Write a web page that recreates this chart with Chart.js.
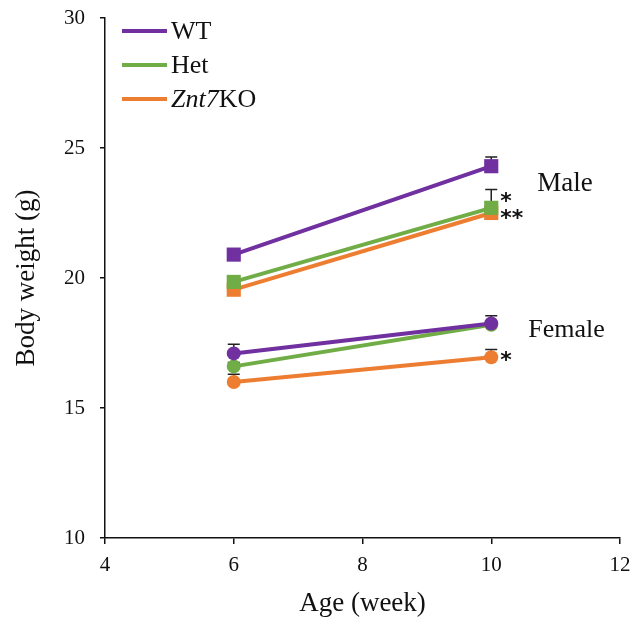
<!DOCTYPE html>
<html>
<head>
<meta charset="utf-8">
<script src="https://cdn.jsdelivr.net/npm/chart.js@4/dist/chart.umd.min.js"></script>
<style>
  html, body { margin: 0; padding: 0; background: #fff; }
  #wrap { width: 631px; height: 617px; }
</style>
</head>
<body>
<div id="wrap"><canvas id="chart" width="631" height="617"></canvas></div>
<script>
const ages = [6, 10];
const groups = ['WT', 'Het', 'Znt7KO'];
const colors = ['#7030A0', '#70AD47', '#ED7D31'];

// body weight (g), mean
const maleWT = [20.9, 24.3];
const maleHet = [19.85, 22.7];
const maleKO = [19.55, 22.5];
const femaleWT = [17.1, 18.25];
const femaleHet = [16.6, 18.2];
const femaleKO = [16.0, 16.95];

// upper error (g)
const maleWTErr = [0.15, 0.35];
const maleHetErr = [0.1, 0.7];
const maleKOErr = [0.1, 0.15];
const femaleWTErr = [0.35, 0.3];
const femaleHetErr = [0.15, 0.1];
const femaleKOErr = [0.3, 0.3];

const yTicks = [10, 15, 20, 25, 30];
const xTicks = [4, 6, 8, 10, 12];

const serif = '"Liberation Serif", "Times New Roman", serif';
const ink = '#111';

function series(label, values, errs, color, shape) {
    return {
        label: label,
        data: ages.map((a, i) => ({ x: a, y: values[i], err: errs[i] })),
        borderColor: color,
        backgroundColor: color,
        borderWidth: 4,
        pointStyle: shape,
        pointRadius: shape == 'rect' ? 10 : 7,
        pointBorderWidth: 0,
        pointHoverRadius: 0,
        tension: 0,
    };
}

const errorBars = {
    id: 'errorBars',
    beforeDatasetsDraw(chart) {
        const ctx = chart.ctx;
        const y = chart.scales.y;
        const x = chart.scales.x;
        ctx.save();
        ctx.strokeStyle = '#222';
        ctx.lineWidth = 1.5;
        for (const ds of chart.data.datasets) {
            for (const p of ds.data) {
                const px = x.getPixelForValue(p.x);
                const y0 = y.getPixelForValue(p.y);
                const y1 = y.getPixelForValue(p.y + p.err);
                ctx.beginPath();
                ctx.moveTo(px, y0);
                ctx.lineTo(px, y1);
                ctx.moveTo(px - 6, y1);
                ctx.lineTo(px + 6, y1);
                ctx.stroke();
            }
        }
        ctx.restore();
    },
};

function star(ctx, text, left, cy) {
    const m = ctx.measureText(text);
    ctx.fillText(text, left, cy + (m.actualBoundingBoxAscent - m.actualBoundingBoxDescent) / 2);
}

const notes = {
    id: 'notes',
    afterDraw(chart) {
        const ctx = chart.ctx;
        const x = chart.scales.x;
        const y = chart.scales.y;
        const x10 = x.getPixelForValue(10);
        ctx.save();
        ctx.fillStyle = ink;
        ctx.textBaseline = 'middle';
        ctx.textAlign = 'left';
        ctx.font = '27px ' + serif;
        ctx.fillText('Male', x10 + 46, y.getPixelForValue(23.6));
        ctx.font = '26px ' + serif;
        ctx.fillText('Female', x10 + 37, y.getPixelForValue(18.0));

        ctx.textBaseline = 'alphabetic';
        ctx.font = 'bold 22px "DejaVu Sans", sans-serif';
        star(ctx, '*', x10 + 9, y.getPixelForValue(23.1));
        star(ctx, '**', x10 + 9, y.getPixelForValue(22.45));
        star(ctx, '*', x10 + 9, y.getPixelForValue(17.0));

        // legend
        ctx.textBaseline = 'middle';
        const left = chart.chartArea.left;
        const top = chart.chartArea.top;
        const rows = [13, 47, 81];
        groups.forEach((g, i) => {
            const ly = top + rows[i];
            ctx.strokeStyle = colors[i];
            ctx.lineWidth = 4;
            ctx.beginPath();
            ctx.moveTo(left + 17, ly);
            ctx.lineTo(left + 62, ly);
            ctx.stroke();
            ctx.font = '26px ' + serif;
            if (g == 'Znt7KO') {
                ctx.font = 'italic 26px ' + serif;
                ctx.fillText('Znt7', left + 66, ly + 1);
                const w = ctx.measureText('Znt7').width;
                ctx.font = '26px ' + serif;
                ctx.fillText('KO', left + 66 + w, ly + 1);
            } else {
                ctx.fillText(g, left + 66, ly + 1);
            }
        });
        ctx.restore();
    },
};

function noPad(scale) {
    scale.paddingTop = 0;
    scale.paddingBottom = 0;
    scale.paddingLeft = 0;
    scale.paddingRight = 0;
}

new Chart(document.querySelector('#chart'), {
    type: 'line',
    data: {
        datasets: [
            series('WT', maleWT, maleWTErr, colors[0], 'rect'),
            series('Het', maleHet, maleHetErr, colors[1], 'rect'),
            series('Znt7KO', maleKO, maleKOErr, colors[2], 'rect'),
            series('WT', femaleWT, femaleWTErr, colors[0], 'circle'),
            series('Het', femaleHet, femaleHetErr, colors[1], 'circle'),
            series('Znt7KO', femaleKO, femaleKOErr, colors[2], 'circle'),
        ],
    },
    options: {
        responsive: false,
        animation: false,
        events: [],
        layout: { padding: { left: 0, top: 18, right: 11, bottom: 0 } },
        plugins: {
            legend: { display: false },
            tooltip: { enabled: false },
        },
        scales: {
            x: {
                type: 'linear',
                min: xTicks[0],
                max: xTicks[xTicks.length - 1],
                afterBuildTicks: scale => { scale.ticks = xTicks.map(v => ({ value: v })); },
                afterFit: scale => { scale.height = 79; noPad(scale); },
                grid: { drawOnChartArea: false, drawTicks: true, tickLength: 6, color: ink, lineWidth: 1.5 },
                border: { display: true, color: ink, width: 1.5 },
                ticks: { color: ink, font: { family: serif, size: 21 }, padding: 9 },
                title: { display: true, text: 'Age (week)', color: ink, font: { family: serif, size: 27, lineHeight: 1 }, padding: { top: 0, bottom: 0 } },
            },
            y: {
                type: 'linear',
                min: yTicks[0],
                max: yTicks[yTicks.length - 1],
                afterBuildTicks: scale => { scale.ticks = yTicks.map(v => ({ value: v })); },
                afterFit: scale => { scale.width = 105; noPad(scale); },
                grid: { drawOnChartArea: false, drawTicks: true, tickLength: 5, color: ink, lineWidth: 1.5 },
                border: { display: true, color: ink, width: 1.5 },
                ticks: { color: ink, font: { family: serif, size: 21 }, padding: 15 },
                title: { display: true, text: 'Body weight (g)', color: ink, font: { family: serif, size: 27, lineHeight: 1 }, padding: { top: 13, bottom: 0 } },
            },
        },
    },
    plugins: [errorBars, notes],
});
</script>
</body>
</html>
